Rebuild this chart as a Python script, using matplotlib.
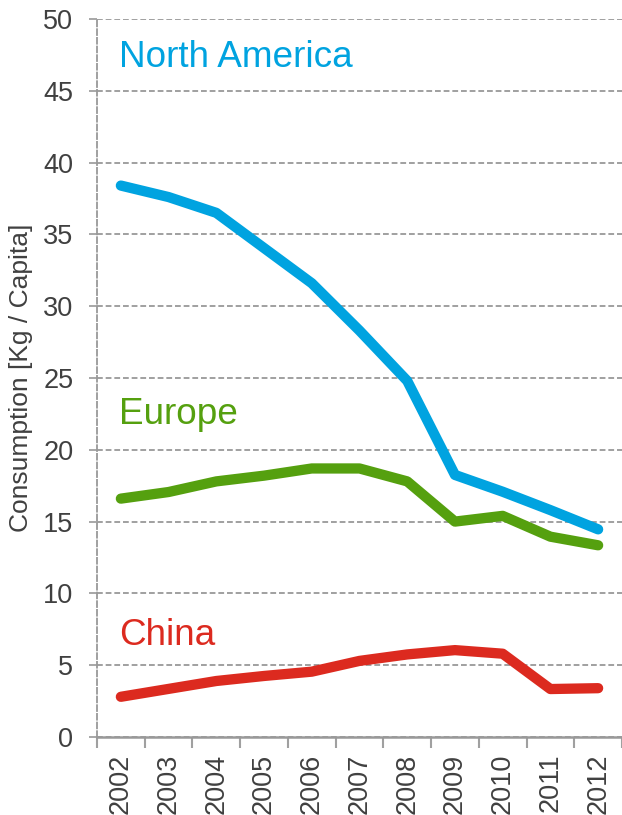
import matplotlib
matplotlib.use("Agg")
import matplotlib.pyplot as plt
import numpy as np

years = ["2002", "2003", "2004", "2005", "2006", "2007", "2008", "2009", "2010", "2011", "2012"]
north_america = [38.4, 37.6, 36.5, 34.05, 31.6, 28.3, 24.8, 18.25, 17.08, 15.8, 14.46]
europe = [16.6, 17.06, 17.8, 18.2, 18.7, 18.7, 17.8, 15.0, 15.4, 13.95, 13.35]
china = [2.8, 3.35, 3.9, 4.25, 4.55, 5.3, 5.75, 6.05, 5.8, 3.34, 3.4]

series = [
    ("North America", north_america, "#00a3e0", 46.66),
    ("Europe", europe, "#55a00f", 21.8),
    ("China", china, "#dc2a1f", 6.4),
]

plt.rcParams['font.family'] = ['Liberation Sans', 'DejaVu Sans']

fig = plt.figure(figsize=(6.22, 8.15), dpi=100)
ax = fig.add_axes([97/622, 78/815, 525/622, 718/815])

x = np.arange(len(years))
for name, vals, color, ylab in series:
    ax.plot(x, vals, color=color, lw=7.4, solid_capstyle='round', solid_joinstyle='round', zorder=3)
    ax.text(-0.04, ylab, name, color=color, fontsize=26.6, ha='left', va='baseline')

ax.set_xlim(-0.5, len(years) - 0.5)
ax.set_ylim(0, 50)
ax.set_yticks(np.arange(0, 51, 5))

ax.set_xticks(np.arange(-0.5, len(years), 1.0))
ax.set_xticklabels([])
ax.set_xticks(x, minor=True)
ax.set_xticklabels(years, minor=True, rotation=90, fontsize=19.5, color='#404040')
ax.tick_params(axis='x', which='major', length=8, width=1.5, color='#a0a0a0', direction='out')
ax.tick_params(axis='x', which='minor', length=0, pad=12)
ax.tick_params(axis='y', length=6, width=1.3, color='#a0a0a0', pad=11, labelsize=19.5, labelcolor='#404040')

ax.yaxis.grid(True, color='#999999', lw=1.3, linestyle=(0, (3.2, 1.6)), zorder=1)
ax.set_axisbelow(True)

for s in ['top', 'right']:
    ax.spines[s].set_visible(False)
ax.spines['left'].set_linestyle((0, (3.2, 1.6)))
ax.spines['left'].set_color('#999999')
ax.spines['left'].set_linewidth(1.3)
ax.spines['bottom'].set_color('#999999')
ax.spines['bottom'].set_linewidth(1.8)

ax.set_ylabel("Consumption [Kg / Capita]", fontsize=19, color='#404040', labelpad=7)

fig.savefig("out.png", dpi=100)
